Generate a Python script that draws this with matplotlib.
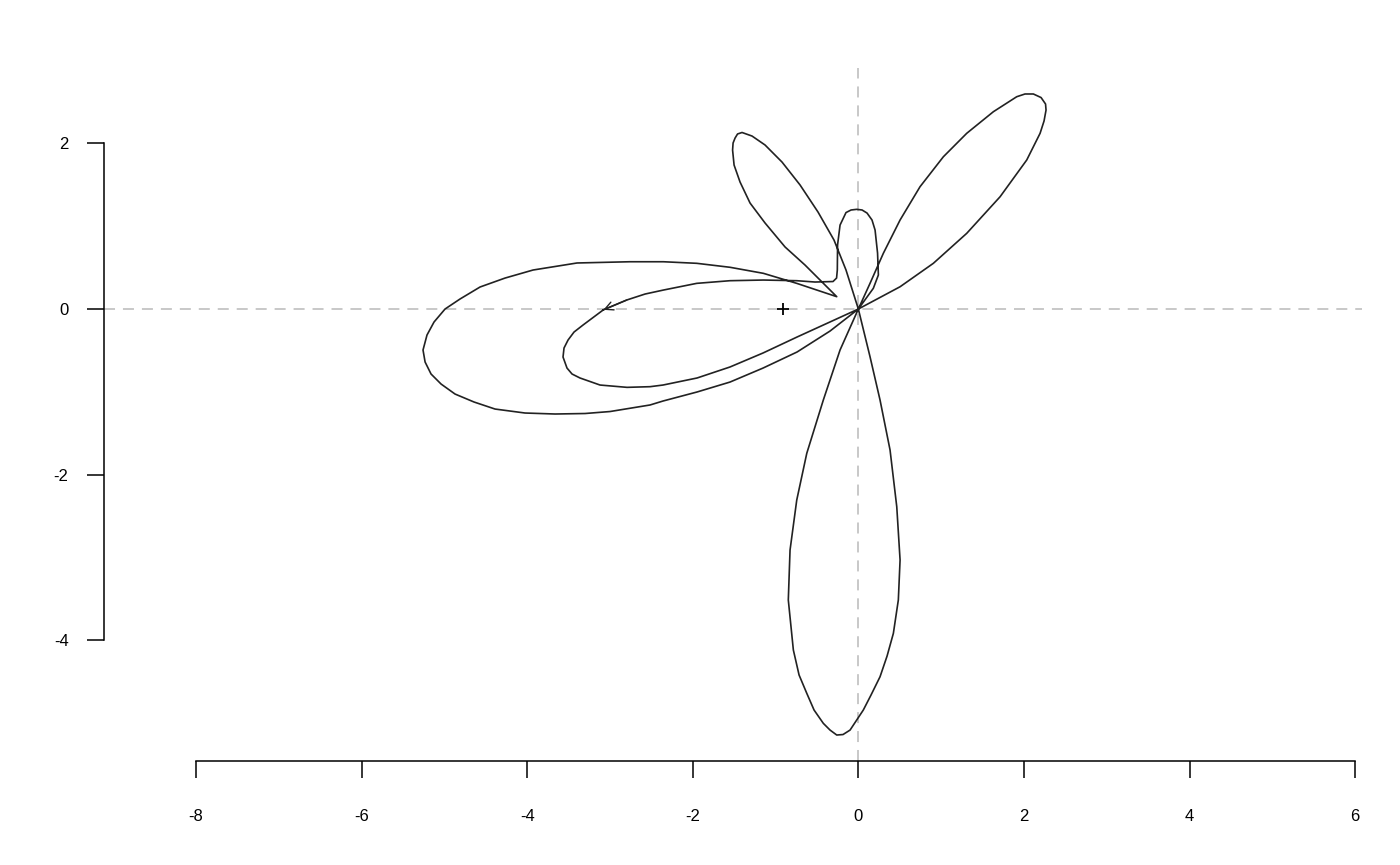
import matplotlib.pyplot as plt

plt.rcParams.update({
    "font.family": "sans-serif",
    "font.sans-serif": ["Liberation Sans", "Arial", "DejaVu Sans"],
    "font.size": 12,
})

# ---------------------------------------------------------
# Data
# ---------------------------------------------------------

# closed path, traced from the arrow point round every lobe and back
curve_x = [
    # inner left lobe, lower side
    -3.08, -3.325, -3.434, -3.506, -3.555, -3.567, -3.519, -3.458, -3.362, -3.120,
    -2.794, -2.516, -2.359, -1.948, -1.550, -1.151, -0.740, -0.342, 0.0,
    # upper right petal
    0.504, 0.906, 1.309, 1.712, 2.034, 2.195, 2.243, 2.267, 2.261, 2.207,
    2.114, 2.013, 1.913, 1.631, 1.309, 1.027, 0.745, 0.504, 0.302, 0.141, 0.0,
    # bottom lobe
    -0.221, -0.423, -0.623, -0.744, -0.825, -0.846, -0.785, -0.716, -0.623, -0.535,
    -0.423, -0.342, -0.261, -0.185, -0.100, 0.060, 0.153, 0.262, 0.347, 0.423,
    0.483, 0.504, 0.464, 0.383, 0.262, 0.141, 0.0,
    # upper left petal
    -0.149, -0.294, -0.487, -0.704, -0.922, -1.127, -1.284, -1.405, -1.459, -1.489,
    -1.513, -1.519, -1.501, -1.429, -1.308, -1.127, -0.885, -0.644, -0.438, -0.261,
    # outer left lobe
    -0.502, -0.744, -1.147, -1.550, -1.952, -2.355, -2.758, -3.398, -3.929, -4.267,
    -4.569, -4.811, -4.992, -5.125, -5.210, -5.258, -5.233, -5.161, -5.040, -4.871,
    -4.642, -4.388, -4.026, -3.663, -3.301, -2.999, -2.516, -2.359, -1.948, -1.550,
    -1.151, -0.740, -0.342, 0.0,
    # small top petal, then inner lobe upper side back to the arrow
    0.181, 0.242, 0.232, 0.202, 0.165, 0.105, 0.045, -0.019, -0.088, -0.149,
    -0.221, -0.251, -0.254, -0.263, -0.306, -0.523, -0.744, -1.147, -1.550, -1.952,
    -2.355, -2.576, -2.797, -3.08,
]
curve_y = [
    -0.01, -0.193, -0.278, -0.374, -0.471, -0.580, -0.713, -0.785, -0.833, -0.918,
    -0.946, -0.938, -0.918, -0.833, -0.700, -0.531, -0.338, -0.157, 0.0,
    0.269, 0.552, 0.914, 1.356, 1.800, 2.122, 2.271, 2.403, 2.476, 2.554,
    2.597, 2.597, 2.564, 2.383, 2.122, 1.839, 1.477, 1.075, 0.673, 0.310, 0.0,
    -0.495, -1.099, -1.743, -2.307, -2.911, -3.514, -4.118, -4.420, -4.641, -4.843,
    -5.004, -5.085, -5.145, -5.139, -5.085, -4.843, -4.662, -4.441, -4.191, -3.917,
    -3.514, -3.031, -2.388, -1.703, -1.099, -0.576, 0.0,
    0.471, 0.833, 1.171, 1.498, 1.775, 1.981, 2.089, 2.132, 2.114, 2.065,
    2.005, 1.920, 1.739, 1.534, 1.280, 1.039, 0.749, 0.531, 0.326, 0.149,
    0.229, 0.310, 0.431, 0.504, 0.552, 0.571, 0.571, 0.556, 0.471, 0.374,
    0.266, 0.121, 0.0, -0.157, -0.314, -0.495, -0.640, -0.785, -0.906, -1.027,
    -1.123, -1.208, -1.256, -1.268, -1.262, -1.238, -1.159, -1.111, -1.002, -0.882,
    -0.713, -0.519, -0.266, 0.0,
    0.250, 0.411, 0.676, 0.954, 1.075, 1.159, 1.196, 1.204, 1.196, 1.165,
    1.014, 0.773, 0.471, 0.374, 0.332, 0.326, 0.342, 0.350, 0.342, 0.310,
    0.229, 0.181, 0.109, -0.01,
]

center_x = [-0.91]
center_y = [0.0]

x_ticks = [-8, -6, -4, -2, 0, 2, 4, 6]
y_ticks = [-4, -2, 0, 2]

# ---------------------------------------------------------
# Figure
# ---------------------------------------------------------

fig = plt.figure(figsize=(14, 8.65), dpi=100)
ax = fig.add_axes([0.0743, 0.1202, 0.8986, 0.8012])
ax.set_xlim(-9.111, 6.084)
ax.set_ylim(-5.459, 2.911)

ref_style = dict(color="#c4c4c4", linewidth=1.3, dashes=(6.1, 4.4), zorder=1)
ax.axhline(0, **ref_style)
ax.axvline(0, **ref_style)

line_color = "#222222"
ax.plot(curve_x, curve_y, color=line_color, linewidth=1.2, zorder=3,
        solid_joinstyle="round")

# small arrow head at the end of the path
ax.annotate(
    "", xy=(curve_x[-1], curve_y[-1]), xytext=(curve_x[-2], curve_y[-2]),
    arrowprops=dict(arrowstyle="->,head_length=0.6,head_width=0.3",
                    color=line_color, lw=1.0, shrinkA=0, shrinkB=0,
                    mutation_scale=10),
    zorder=4,
)

ax.plot(center_x, center_y, marker="+", markersize=9, markeredgewidth=1.3,
        color="black", linestyle="none", zorder=5)

# ---------------------------------------------------------
# Axes, R style
# ---------------------------------------------------------

for side in ("top", "right"):
    ax.spines[side].set_visible(False)
ax.spines["left"].set_bounds(min(y_ticks), max(y_ticks))
ax.spines["bottom"].set_bounds(min(x_ticks), max(x_ticks))
ax.spines["left"].set_linewidth(1.1)
ax.spines["bottom"].set_linewidth(1.1)

ax.set_xticks(x_ticks)
ax.set_yticks(y_ticks)
ax.set_xticklabels([str(t) for t in x_ticks])
ax.set_yticklabels([str(t) for t in y_ticks])
ax.tick_params(axis="x", direction="out", length=12.5, width=1.1, pad=22)
ax.tick_params(axis="y", direction="out", length=12.5, width=1.1, pad=13)

fig.savefig("out.png", dpi=100)
plt.close(fig)
